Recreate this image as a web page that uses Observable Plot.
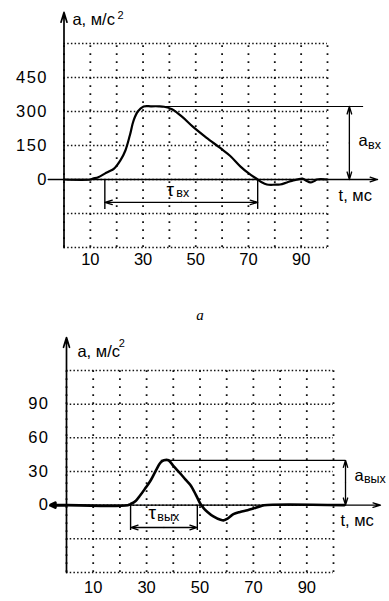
<!DOCTYPE html>
<html><head><meta charset="utf-8">
<script src="https://cdn.jsdelivr.net/npm/d3@7"></script>
<script src="https://cdn.jsdelivr.net/npm/@observablehq/plot@0.6"></script>
<style>
body{margin:0;background:#fff;}
#wrap{position:relative;width:389px;height:601px;background:#fff;}
#top{position:absolute;left:0;top:0;}
#bot{position:absolute;left:0;top:325px;}
#cap{position:absolute;left:200px;top:308px;transform:translateX(-50%);font:italic 15px/15px "Liberation Serif",serif;color:#000;}
</style></head><body>
<div id="wrap"><div id="top"></div><div id="cap">а</div><div id="bot"></div></div>
<script>
// ---- data: input acceleration (top, "а") ----
const topTime  = [0, 10, 11, 13, 15.5, 17, 19, 21.4, 23.3, 25, 26.4, 28, 30.2, 33, 36, 38, 41, 45, 49, 54, 59.4, 63, 67, 70, 73.5, 75, 77, 80, 82, 84.6, 87, 88.6, 90.5, 92, 93.5, 95, 96, 100];
const topAccel = [0, 0, 4, 10, 26, 35, 48, 84, 128, 195, 260, 300, 322, 323, 323, 321, 310, 275, 232, 185, 138, 105, 57, 28, 0, -12, -22, -23, -22, -13, -4, 0, 4, -6, -13, -7, 0, 0];
const topXTicks = [10, 30, 50, 70, 90];
const topYTicks = [0, 150, 300, 450];
const topXGrid = [0, 10, 20, 30, 40, 50, 60, 70, 80, 90, 100];
const topYGrid = [-300, -150, 0, 150, 300, 450, 600];
const topPeak = 322, topTauStart = 15.5, topTauEnd = 73.5;

// ---- data: output acceleration (bottom) ----
const botTime  = [0, 23, 24, 26, 27.7, 29.5, 31.5, 33.5, 35.2, 36.5, 38.2, 40, 42.7, 44.5, 46.4, 48.5, 50.2, 51.5, 52.8, 55, 57.7, 59, 60.3, 62.5, 65, 67.8, 70, 72.7, 74, 104];
const botAccel = [0, 0, 1, 4, 9, 15, 22, 31, 38, 40, 40, 35, 28, 23, 18, 9, 1, -3, -6, -10, -13, -13.5, -12, -8, -6, -4.5, -3, -1, 0, 0];
const botXTicks = [10, 30, 50, 70, 90];
const botYTicks = [0, 30, 60, 90];
const botXGrid = [0, 10, 20, 30, 40, 50, 60, 70, 80, 90, 100];
const botYGrid = [-60, -30, 0, 30, 60, 90, 120];
const botPeak = 40, botTauStart = 24, botTauEnd = 49;

const FONT = "Liberation Sans, Arial, sans-serif";

function build(cfg) {
  const rows = cfg.time.map((t, i) => ({t, a: cfg.accel[i]}));
  const [x0, x1] = cfg.xDomain, [y0, y1] = cfg.yDomain;
  const txt = (arr, fs) => Plot.text(arr, {x: "t", y: "a", text: "s", textAnchor: "start", fontSize: fs, fill: "#000"});
  const midA = cfg.peak / 2, midT = (cfg.tauStart + cfg.tauEnd) / 2;
  const ar = {headAngle: 34, headLength: 9, strokeWidth: 1.3, stroke: "#000"};
  const extra = cfg.extra || [];
  const svg = Plot.plot({
    width: 389, height: cfg.height,
    marginLeft: cfg.ml, marginRight: cfg.mr, marginTop: cfg.mt, marginBottom: cfg.mb,
    x: {domain: cfg.xDomain},
    y: {domain: cfg.yDomain},
    style: {fontFamily: FONT, background: "white", color: "#000", overflow: "visible"},
    marks: [
      Plot.ruleY(cfg.yGrid, {x1: x0, x2: x1, stroke: "#111", strokeWidth: 1.5, strokeDasharray: "1.5 2.2"}),
      Plot.ruleX(cfg.xGrid, {y1: y0, y2: y1, stroke: "#111", strokeWidth: 1.8, strokeDasharray: "1.8 6.2"}),
      Plot.axisX(cfg.xTicks, {tickSize: 0, tickPadding: cfg.xPad, fontSize: 16.5, label: null}),
      Plot.axisY(cfg.yTicks, {tickSize: 0, tickPadding: cfg.yPad, fontSize: 16.5, label: null}),
      Plot.arrow([0], {x1: 0, x2: 0, y1: y0, y2: cfg.yAxisTop, ...ar, strokeWidth: 1.7}),
      Plot.arrow([0], {x1: cfg.xAxisStart, x2: cfg.xAxisEnd, y1: 0, y2: 0, ...ar}),
      ...extra,
      Plot.line(rows, {x: "t", y: "a", curve: "catmull-rom", strokeWidth: cfg.lineWidth, stroke: "#000"}),
      Plot.ruleY([cfg.peak], {x1: cfg.peakT, x2: cfg.peakEnd, strokeWidth: 1.2, stroke: "#000"}),
      Plot.arrow([0], {x1: cfg.aArrowT, x2: cfg.aArrowT, y1: midA, y2: cfg.peak, ...ar}),
      Plot.arrow([0], {x1: cfg.aArrowT, x2: cfg.aArrowT, y1: midA, y2: 0, ...ar}),
      Plot.ruleX([cfg.tauStart, cfg.tauEnd], {y1: 0, y2: cfg.tauBottom, strokeWidth: 1.4, stroke: "#000"}),
      Plot.arrow([0], {x1: midT, x2: cfg.tauStart, y1: cfg.tauY, y2: cfg.tauY, ...ar}),
      Plot.arrow([0], {x1: midT, x2: cfg.tauEnd, y1: cfg.tauY, y2: cfg.tauY, ...ar}),
      txt(cfg.bigText, 16.5),
      txt(cfg.tauText, 19),
      txt(cfg.subText, cfg.subSize),
      txt(cfg.supText, 11)
    ]
  });
  svg.querySelectorAll('[aria-label="y-axis tick label"] text').forEach(t => t.style.letterSpacing = "1.5px");
  return svg;
}

document.getElementById("top").append(build({
  time: topTime, accel: topAccel, height: 300,
  ml: 63.5, mr: 62, mt: 43, mb: 53,
  xDomain: [0, 100], yDomain: [-300, 600],
  xGrid: topXGrid, yGrid: topYGrid, xTicks: topXTicks, yTicks: topYTicks,
  xPad: 6, yPad: 16, yAxisTop: 737, xAxisStart: -6, xAxisEnd: 119,
  lineWidth: 2.2, peak: topPeak, peakT: 30.2, peakEnd: 113.7, aArrowT: 108.3,
  tauStart: topTauStart, tauEnd: topTauEnd, tauBottom: -132, tauY: -101,
  bigText: [{t: 3.2, a: 706, s: "a, м/с"}, {t: 104.2, a: -70, s: "t, мс"}, {t: 111.8, a: 172, s: "a"}],
  tauText: [{t: 38.9, a: -46, s: "τ"}],
  subText: [{t: 42.6, a: -60, s: "вх"}, {t: 115.4, a: 152, s: "вх"}],
  subSize: 12.5,
  supText: [{t: 20.3, a: 722, s: "2"}]
}));

document.getElementById("bot").append(build({
  time: botTime, accel: botAccel, height: 276,
  ml: 66, mr: 56, mt: 45, mb: 29,
  xDomain: [0, 100], yDomain: [-60, 120],
  xGrid: botXGrid, yGrid: botYGrid, xTicks: botXTicks, yTicks: botYTicks,
  xPad: 9, yPad: 17, yAxisTop: 149.4, xAxisStart: -6, xAxisEnd: 117.6,
  lineWidth: 2.6, peak: botPeak, peakT: 35.5, peakEnd: 104.5, aArrowT: 104.5,
  tauStart: botTauStart, tauEnd: botTauEnd, tauBottom: -22.6, tauY: -19.9,
  bigText: [{t: 4.1, a: 136.5, s: "a, м/с"}, {t: 102.6, a: -13.7, s: "t, мс"}, {t: 107.9, a: 26.4, s: "a"}],
  tauText: [{t: 30.7, a: -6.5, s: "τ"}],
  subText: [{t: 34.0, a: -10.5, s: "вых"}, {t: 111.4, a: 23.5, s: "вых"}],
  subSize: 12.5,
  supText: [{t: 19.6, a: 144, s: "2"}],
  extra: [Plot.arrow([0], {x1: 0, x2: -6, y1: 0, y2: 0, headAngle: 50, headLength: 6, strokeWidth: 3, stroke: "#000"})]
}));
</script>
</body></html>
